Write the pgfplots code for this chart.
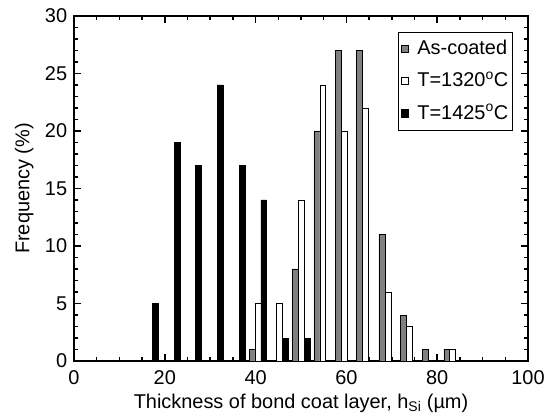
\documentclass[border=0pt]{standalone}
\usepackage{fontspec}
\setmainfont{Liberation Sans}
\usepackage{pgfplots}
\pgfplotsset{compat=1.18}
\definecolor{barg}{RGB}{128,128,128}
\newcommand{\ff}{\fontsize{20}{23}\selectfont}
\begin{document}
\ff
\begin{tikzpicture}
\useasboundingbox (-74bp,-59bp) rectangle (478bp,361bp);
\begin{axis}[
  at={(0,0)}, anchor=south west,
  scale only axis, width=454bp, height=345bp,
  xmin=0, xmax=100, ymin=0, ymax=30,
  xtick={0,20,...,100}, minor x tick num=3,
  ytick={0,5,...,30}, minor y tick num=4,
  tick align=inside, tick pos=both,
  major tick length=7bp, minor tick length=4bp,
  every tick/.style={black, line width=1.5bp},
  axis line style={line width=2bp},
  /pgf/number format/assume math mode=true,
  ticklabel style={font=\ff},
  xticklabel style={yshift=-3bp},
  label style={font=\ff},
  xlabel={Thickness of bond coat layer, h\textsubscript{Si} (µm)},
  ylabel={Frequency (\%)},
  xlabel style={yshift=4bp},
  ylabel style={yshift=-2bp},
  legend style={at={(0.966,0.955)}, anchor=north east, draw=black, line width=0.8bp,
    font=\ff, row sep=10.5bp, inner xsep=2bp, inner ysep=6bp},
  legend cell align=left,
  legend image code/.code={\draw[#1, line width=0.6bp] (0bp,-3.5bp) rectangle (7bp,3.5bp);
     \path (14bp,0bp);},
]
\addplot[ybar, bar shift=0pt, bar width=1.3, fill=barg, draw=black, line width=0.5bp]
  coordinates {(39.2,1) (48.8,8) (53.5,20) (58.3,27) (62.9,27) (67.8,11) (72.6,4) (77.4,1) (82.1,1)};
\addlegendentry{As-coated}
\addplot[ybar, bar shift=0pt, bar width=1.3, fill=white, draw=black, line width=0.5bp]
  coordinates {(40.5,5) (45.2,5) (50.0,14) (54.8,24) (59.6,20) (64.2,22) (69.2,6) (73.9,3) (83.4,1)};
\addlegendentry{T=1320\textsuperscript{o}C}
\addplot[ybar, bar shift=0pt, bar width=1.3, fill=black, draw=black, line width=0.5bp]
  coordinates {(17.96,5) (22.7,19) (27.4,17) (32.2,24) (37.1,17) (41.8,14) (46.5,2) (51.4,2)};
\addlegendentry{T=1425\textsuperscript{o}C}
\end{axis}
\end{tikzpicture}
\end{document}
